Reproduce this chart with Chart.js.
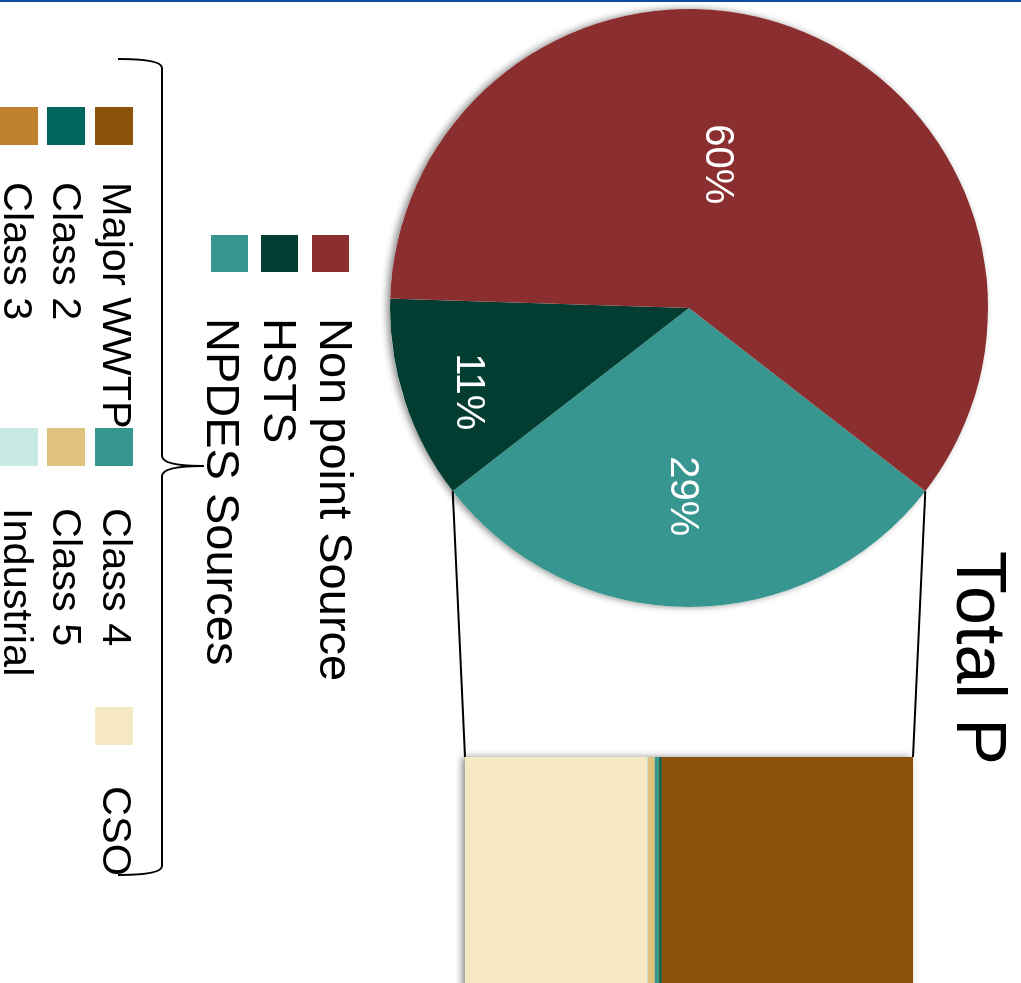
<!DOCTYPE html>
<html>
<head>
<meta charset="utf-8">
<title>Total P</title>
<script src="https://cdn.jsdelivr.net/npm/chart.js@4.4.1/dist/chart.umd.min.js"></script>
<style>
  html, body { margin: 0; padding: 0; background: #fff; overflow: hidden; }
  body { width: 1021px; height: 983px; position: relative; }
  /* the slide is laid out upright and turned a quarter clockwise */
  #slide {
    position: absolute; left: 0; top: 0;
    width: 983px; height: 1021px;
    transform-origin: 0 0;
    transform: translate(1021px, 0) rotate(90deg);
    font-family: "Liberation Sans", Arial, sans-serif;
    color: #000;
  }
  #rule { position: absolute; left: 0; top: 0; width: 2px; height: 1021px; background: #0d4aa6; }
  canvas, svg { position: absolute; }
  .swatch { position: absolute; }
  .lbl { position: absolute; white-space: nowrap; line-height: 1; }
  #title { position: absolute; left: 551px; top: 5px; font-size: 70px; line-height: 1; white-space: nowrap; }
</style>
</head>
<body>
<div id="slide">
  <div id="rule"></div>
  <div id="title">Total P</div>
  <canvas id="pie" width="616" height="616" style="left:0; top:24px;"></canvas>
  <canvas id="bar" width="280" height="468" style="left:747px; top:98px;"></canvas>
  <svg id="links" width="983" height="1021" style="left:0; top:0;">
    <!-- brace grouping the NPDES breakdown legend -->
    <path d="M 59 903 Q 59 859 68 859 L 456 859 Q 466 859 466 817 Q 466 859 476 859 L 866 859 Q 875 859 875 903"
          fill="none" stroke="#000" stroke-width="2"/>
  </svg>
</div>

<script>
// Share of total phosphorus load by source (%)
const pieLabels = ['Non point Source', 'HSTS', 'NPDES Sources'];
const pieValues = [60, 11, 29];
const pieColors = ['#8b2e2f', '#033c30', '#37968f'];

// NPDES Sources broken down by discharger (same units, adds up to the NPDES slice)
const barLabels = ['Major WWTP', 'Class 2', 'Class 3', 'Class 4', 'Class 5', 'Industrial', 'CSO'];
const barValues = [16.3, 0.15, 0.03, 0.26, 0.45, 0.06, 11.75];
const barColors = ['#8c510a', '#01665e', '#bf812d', '#35978f', '#dfc27d', '#c7eae5', '#f6e8c3'];

const FONT = '"Liberation Sans", Arial, sans-serif';

// pie is drawn NPDES first so that slice sits centred on the right, facing the bar
const drawLabels = pieLabels.slice().reverse();
const drawValues = pieValues.slice().reverse();
const drawColors = pieColors.slice().reverse();
const pieTotal = drawValues.reduce((a, b) => a + b, 0);
// where each % label sits: fraction along the slice's sweep, fraction of the radius
const labelSpot = [
    { along: 0.52, out: 0.63 },
    { along: 0.43, out: 0.79 },
    { along: 0.46, out: 0.49 }
];

const pieExtras = {
    id: 'pieExtras',
    beforeDatasetsDraw(chart) {
        // soft drop shadow under the whole pie
        const arc = chart.getDatasetMeta(0).data[0];
        const ctx = chart.ctx;
        ctx.save();
        ctx.shadowColor = 'rgba(0,0,0,0.45)';
        ctx.shadowBlur = 7;
        ctx.shadowOffsetY = 3;
        ctx.fillStyle = '#fff';
        ctx.beginPath();
        ctx.arc(arc.x, arc.y, arc.outerRadius, 0, Math.PI * 2);
        ctx.fill();
        ctx.restore();
    },
    afterDatasetsDraw(chart) {
        const ctx = chart.ctx;
        const data = chart.data.datasets[0].data;
        ctx.save();
        ctx.fillStyle = '#fff';
        ctx.font = '40px ' + FONT;
        ctx.textAlign = 'center';
        ctx.textBaseline = 'middle';
        chart.getDatasetMeta(0).data.forEach((a, i) => {
            const ang = a.startAngle + (a.endAngle - a.startAngle) * labelSpot[i].along;
            const r = a.outerRadius * labelSpot[i].out;
            ctx.fillText(data[i] + '%', a.x + Math.cos(ang) * r, a.y + Math.sin(ang) * r);
        });
        ctx.restore();
    }
};

const barShadow = {
    id: 'barShadow',
    beforeDatasetsDraw(chart) {
        const bars = chart.data.datasets.map((d, i) => chart.getDatasetMeta(i).data[0]);
        const left = bars[0].x - bars[0].width / 2;
        const top = Math.min(...bars.map(b => b.y));
        const bottom = Math.max(...bars.map(b => b.base));
        const ctx = chart.ctx;
        ctx.save();
        ctx.shadowColor = 'rgba(0,0,0,0.45)';
        ctx.shadowBlur = 7;
        ctx.shadowOffsetY = 3;
        ctx.fillStyle = '#fff';
        ctx.fillRect(left, top, bars[0].width, bottom - top);
        ctx.restore();
    }
};

const pieCanvas = document.getElementById('pie');
const pieChart = new Chart(pieCanvas, {
    type: 'pie',
    data: {
        labels: drawLabels,
        datasets: [{
            data: drawValues,
            backgroundColor: drawColors,
            borderWidth: 0,
            hoverOffset: 0
        }]
    },
    options: {
        responsive: false,
        animation: false,
        events: [],
        rotation: 90 - drawValues[0] / pieTotal * 180,
        layout: { padding: 9 },
        plugins: { legend: { display: false }, tooltip: { enabled: false } }
    },
    plugins: [pieExtras]
});

const barCanvas = document.getElementById('bar');
const barTotal = barValues.reduce((a, b) => a + b, 0);
const barChart = new Chart(barCanvas, {
    type: 'bar',
    data: {
        labels: ['NPDES Sources'],
        // stacked bottom-up, so CSO first and Major WWTP on top
        datasets: barLabels.map((name, i) => ({
            label: name,
            data: [barValues[i]],
            backgroundColor: barColors[i],
            borderWidth: 0,
            barPercentage: 1,
            categoryPercentage: 1
        })).reverse()
    },
    options: {
        responsive: false,
        animation: false,
        events: [],
        layout: { padding: 10 },
        scales: {
            x: { display: false, stacked: true },
            y: { display: false, stacked: true, min: 0, max: barTotal }
        },
        plugins: { legend: { display: false }, tooltip: { enabled: false } }
    },
    plugins: [barShadow]
});

// connector lines from the NPDES slice edges to the corners of the bar
(function drawLinks() {
    const svg = document.getElementById('links');
    const arc = pieChart.getDatasetMeta(0).data[0];
    const bars = barChart.data.datasets.map((d, i) => barChart.getDatasetMeta(i).data[0]);
    const px = pieCanvas.offsetLeft, py = pieCanvas.offsetTop;
    const bx = barCanvas.offsetLeft, by = barCanvas.offsetTop;
    const barLeft = bx + bars[0].x - bars[0].width / 2;
    const barTop = by + Math.min(...bars.map(b => b.y));
    const barBottom = by + Math.max(...bars.map(b => b.base));
    const ends = [
        [arc.startAngle, barTop],
        [arc.endAngle, barBottom]
    ];
    ends.forEach(([ang, v]) => {
        const line = document.createElementNS('http://www.w3.org/2000/svg', 'line');
        line.setAttribute('x1', px + arc.x + arc.outerRadius * Math.cos(ang));
        line.setAttribute('y1', py + arc.y + arc.outerRadius * Math.sin(ang));
        line.setAttribute('x2', barLeft);
        line.setAttribute('y2', v);
        line.setAttribute('stroke', '#000');
        line.setAttribute('stroke-width', '2');
        svg.appendChild(line);
    });
})();

// --- LEGENDS ---
const slide = document.getElementById('slide');

function addSwatch(color, left, top, size) {
    const d = document.createElement('div');
    d.className = 'swatch';
    d.style.cssText = `left:${left}px; top:${top}px; width:${size}px; height:${size}px; background:${color};`;
    slide.appendChild(d);
}

function addLabel(text, left, top, size) {
    const d = document.createElement('div');
    d.className = 'lbl';
    d.textContent = text;
    d.style.cssText = `left:${left}px; top:${top}px; font-size:${size}px;`;
    slide.appendChild(d);
}

pieLabels.forEach((name, i) => {
    addSwatch(pieColors[i], 235, 672 + i * 50.5, 37);
    addLabel(name, 318, 684 + i * 56.25 - 23, 47);
});

// three rows, filled column by column
const colSwatch = [107, 428, 707];
const colText = [182, 508, 786];
barLabels.forEach((name, i) => {
    const col = Math.floor(i / 3), row = i % 3;
    addSwatch(barColors[i], colSwatch[col], 888 + row * 47.5, 38);
    addLabel(name, colText[col], 903.5 + row * 49.3 - 20.3, 41.5);
});
</script>
</body>
</html>
